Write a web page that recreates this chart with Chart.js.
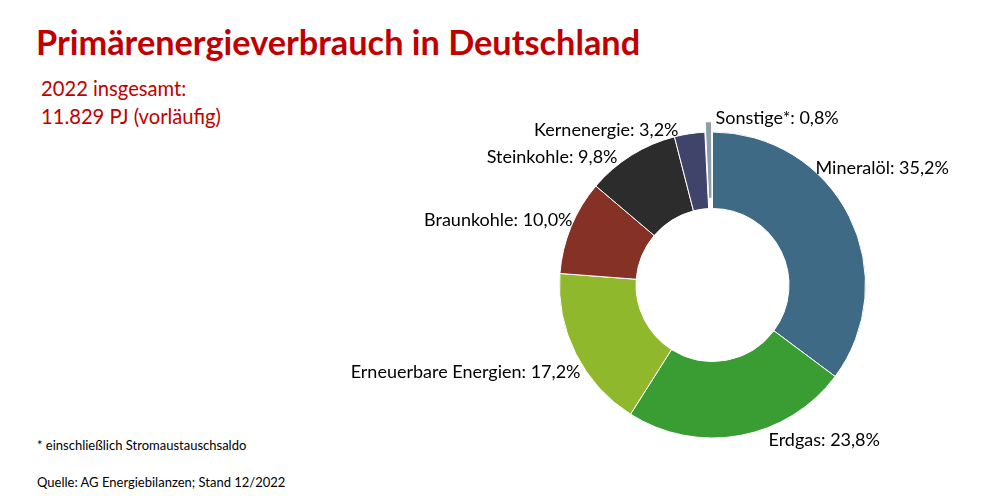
<!DOCTYPE html>
<html lang="de">
<head>
<meta charset="utf-8">
<title>Primärenergieverbrauch in Deutschland</title>
<script src="https://cdn.jsdelivr.net/npm/chart.js@4"></script>
<style>
  html, body { margin: 0; padding: 0; background: #fff; }
  body { width: 1000px; height: 496px; position: relative; overflow: hidden; font-family: Lato, sans-serif; }
  .title { position: absolute; left: 36px; top: 21px; font-size: 34.3px; font-weight: bold; color: #c00000; white-space: nowrap; }
  .sub { position: absolute; left: 41px; top: 74px; font-size: 20.2px; line-height: 28px; color: #c00000; }
  .note { position: absolute; left: 37px; font-size: 13px; color: #000; white-space: nowrap; }
  #wrap { position: absolute; left: 0; top: 0; width: 1000px; height: 496px; }
</style>
</head>
<body>
<div class="title">Primärenergieverbrauch in Deutschland</div>
<div class="sub">2022 insgesamt:<br>11.829 PJ (vorläufig)</div>
<div class="note" style="top:437px">* einschließlich Stromaustauschsaldo</div>
<div class="note" style="top:474px">Quelle: AG Energiebilanzen; Stand 12/2022</div>
<div id="wrap"><canvas id="pieChart"></canvas></div>
<script>
// Anteile am Primärenergieverbrauch 2022 (%)
const categories = ['Mineralöl', 'Erdgas', 'Erneuerbare Energien', 'Braunkohle', 'Steinkohle', 'Kernenergie', 'Sonstige*'];
const shares = [35.2, 23.8, 17.2, 10.0, 9.8, 3.2, 0.8];
const colors = ['#3e6a86', '#3a9d34', '#8fb82c', '#863125', '#2c2c2c', '#40436a', '#8c9eac'];

// label placement relative to chart centre (dx, dy, align)
const labelLayout = [
  { dx: 103, dy: -117, align: 'left' },
  { dx: 56, dy: 155, align: 'left' },
  { dx: -132, dy: 87, align: 'right' },
  { dx: -140, dy: -65, align: 'right' },
  { dx: -95, dy: -128, align: 'right' },
  { dx: -34, dy: -155, align: 'right' },
  { dx: 3, dy: -167, align: 'left' }
];

function fmt(v) {
  return v.toFixed(1).replace('.', ',') + '%';
}

const sliceLabels = {
  id: 'sliceLabels',
  afterDraw(chart) {
    const ctx = chart.ctx;
    const arcs = chart.getDatasetMeta(0).data;
    const cx = arcs[0].x, cy = arcs[0].y;
    ctx.save();
    ctx.font = '18px Lato';
    ctx.fillStyle = '#000';
    ctx.textBaseline = 'middle';
    categories.forEach((c, i) => {
      const l = labelLayout[i];
      ctx.textAlign = l.align;
      ctx.fillText(c + ': ' + fmt(shares[i]), cx + l.dx, cy + l.dy);
    });
    ctx.restore();
  }
};

document.addEventListener('DOMContentLoaded', () => {
  const ctx = document.getElementById('pieChart').getContext('2d');
  new Chart(ctx, {
    type: 'doughnut',
    data: {
      labels: categories,
      datasets: [{
        data: shares,
        backgroundColor: colors,
        borderColor: '#fff',
        borderWidth: 1,
        offset: [0, 0, 0, 0, 0, 0, 21],
        hoverOffset: 0
      }]
    },
    options: {
      responsive: true,
      maintainAspectRatio: false,
      animation: false,
      radius: 153,
      cutout: '50%',
      layout: { padding: { left: 425, top: 74, right: 0, bottom: 0 } },
      plugins: {
        legend: { display: false },
        tooltip: { enabled: false }
      }
    },
    plugins: [sliceLabels]
  });
});
</script>
</body>
</html>
